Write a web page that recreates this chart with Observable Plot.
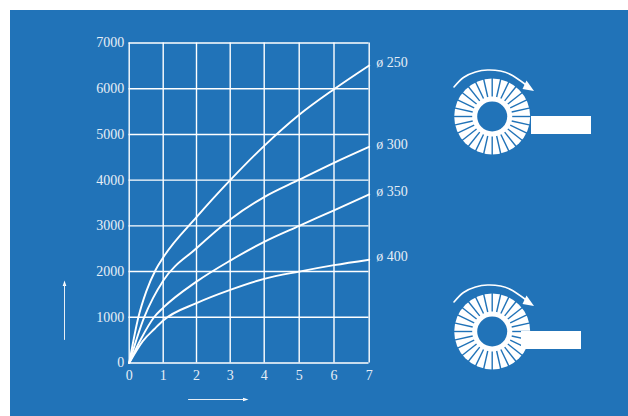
<!DOCTYPE html>
<html><head><meta charset="utf-8">
<script src="https://cdn.jsdelivr.net/npm/d3@7"></script>
<script src="https://cdn.jsdelivr.net/npm/@observablehq/plot@0.6"></script>
<style>
html,body{margin:0;padding:0;background:#fff;overflow:hidden}
#bg{position:absolute;left:10px;top:10px;width:618px;height:406px;background:#2173b8}
#c{position:absolute;left:0;top:0;width:628px;height:416px}
#c svg{position:absolute;left:0;top:0;background:transparent}
</style></head><body><div id="bg"></div><div id="c"></div>
<script>
const xTicks=[0,1,2,3,4,5,6,7];
const xPixels=[128.7,162.7,196,229.7,263.7,298.7,333.5,368.7];
const yTicks=[0,1000,2000,3000,4000,5000,6000,7000];
const sx=[0,0.27,0.5,0.78,1,2,3,4,5,6,7];
const d250=[0,1000,1560,2040,2310,3190,4000,4750,5430,5990,6510];
const ax=[0,0.44,0.7,1,2,3,4,5,6,7];
const d300=[0,1000,1420,1800,2510,3140,3630,4010,4380,4730];
const bx=[0,0.35,0.73,1,2,3,4,5,6,7];
const d350=[0,530,1000,1210,1780,2240,2650,3000,3340,3690];
const cx=[0,0.4,0.75,1,2,3,4,5,6,7];
const d400=[0,480,750,930,1310,1600,1840,2000,2140,2260];
const labels=["ø 250","ø 300","ø 350","ø 400"];
const labelY=[6565,4770,3742,2320];
const ink="#ffffff", soft="#e6eef6", font="Liberation Serif";
const toRows=(xs,ys,k)=>xs.map((x,i)=>({x,y:ys[i],k}));
const rows=[...toRows(sx,d250,0),...toRows(ax,d300,1),...toRows(bx,d350,2),...toRows(cx,d400,3)];

const chart=Plot.plot({width:628,height:416,marginLeft:128.5,marginRight:259.5,marginTop:42.5,marginBottom:53.5,
 style:{background:"transparent",fontFamily:font},
 x:{type:"linear",domain:xTicks,range:xPixels,axis:null},y:{domain:[0,7000],axis:null},
 marks:[
  Plot.ruleX(xTicks,{stroke:ink,strokeWidth:1.4}),
  Plot.ruleY(yTicks,{stroke:ink,strokeWidth:1.4}),
  Plot.line(rows,{x:"x",y:"y",z:"k",curve:"monotone-x",stroke:ink,strokeWidth:1.9}),
  Plot.text(xTicks,{x:d=>d,y:0,text:d=>String(d),dy:13,fill:soft,fontSize:14,fontFamily:font}),
  Plot.text(yTicks,{x:0,y:d=>d,text:d=>String(d),dx:-5,textAnchor:"end",fill:soft,fontSize:14,fontFamily:font}),
  Plot.text(labels,{x:7,y:(d,i)=>labelY[i],text:d=>d,dx:7,textAnchor:"start",fill:soft,fontSize:14,fontFamily:font})
 ]});
document.getElementById("c").append(chart);

// pixel-space overlay for the schematic parts
const discs=[{cx:491.7,cy:116},{cx:491.7,cy:331}];
const slots=[{x1:531,x2:591,y1:116,y2:134},{x1:521,x2:581,y1:331,y2:349}];
const spokeAngles=d3.range(28).map(i=>i*360/28);
const spokes=discs.flatMap(d=>spokeAngles.map(a=>({x1:d.cx+20*Math.cos(a*Math.PI/180),y1:d.cy+20*Math.sin(a*Math.PI/180),x2:d.cx+39*Math.cos(a*Math.PI/180),y2:d.cy+39*Math.sin(a*Math.PI/180)})));
const arc1=[[453.5,86.5],[463,77],[475,71.5],[487,69.5],[500,70.5],[512,75],[525,84]];
const arc2=[[453.5,301.5],[463,292],[475,286.5],[487,284.5],[500,285.5],[512,290],[525,299]];
const head1=[[533.5,90.5],[522,88.5],[526,80]];
const head2=[[533.5,305.5],[522,303.5],[526,295]];
const vArrow=[[64,339],[64,284]], vHead=[[64,280],[62.2,285.5],[65.8,285.5]];
const hArrow=[[188,399],[244,399]], hHead=[[248,399],[242.5,397.2],[242.5,400.8]];
const overlay=Plot.plot({width:628,height:416,margin:0,style:{background:"transparent"},
 x:{domain:[0,628],range:[0,628],axis:null},y:{domain:[0,416],range:[0,416],axis:null},
 marks:[
  Plot.dot(discs,{x:"cx",y:"cy",r:38,fill:"#fff"}),
  Plot.link(spokes,{x1:"x1",y1:"y1",x2:"x2",y2:"y2",stroke:"#2173b8",strokeWidth:1.4}),
  Plot.dot(discs,{x:"cx",y:"cy",r:15,fill:"#2173b8"}),
  Plot.rect(slots,{x1:"x1",x2:"x2",y1:"y1",y2:"y2",fill:"#fff",inset:0}),
  ...[arc1,arc2].map(a=>Plot.line(a,{curve:"natural",stroke:"#fff",strokeWidth:1.6})),
  ...[head1,head2,vHead,hHead].map(a=>Plot.line(a,{fill:"#fff",stroke:"none"})),
  ...[vArrow,hArrow].map(a=>Plot.line(a,{stroke:soft,strokeWidth:1}))
 ]});
document.getElementById("c").append(overlay);
</script></body></html>
